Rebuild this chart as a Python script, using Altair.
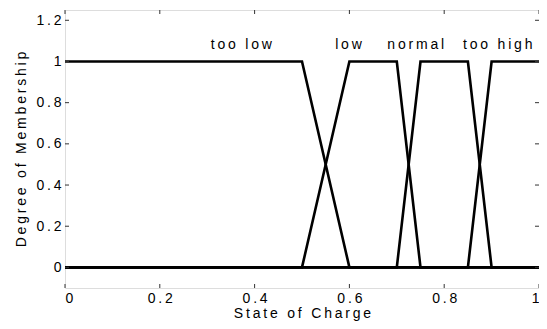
import altair as alt
import pandas as pd

# membership functions (x breakpoints, y values)
too_low_x = [0.0, 0.5, 0.6, 1.0]
too_low_y = [1, 1, 0, 0]
low_x = [0.0, 0.5, 0.6, 0.7, 0.75, 1.0]
low_y = [0, 0, 1, 1, 0, 0]
normal_x = [0.0, 0.7, 0.75, 0.85, 0.9, 1.0]
normal_y = [0, 0, 1, 1, 0, 0]
too_high_x = [0.0, 0.85, 0.9, 1.0]
too_high_y = [0, 0, 1, 1]

label_text = ["too low", "low", "normal", "too high"]
label_x = [0.372, 0.598, 0.74, 0.913]
label_y = [1.08, 1.08, 1.08, 1.08]

x_ticks = [0, 0.2, 0.4, 0.6, 0.8, 1.0]
y_ticks = [0, 0.2, 0.4, 0.6, 0.8, 1.0, 1.2]

THIN = "\u2009"


def spaced(s):
    return THIN.join(list(s))


rows = []
for name, xs, ys in [("too low", too_low_x, too_low_y), ("low", low_x, low_y),
                     ("normal", normal_x, normal_y), ("too high", too_high_x, too_high_y)]:
    for i, (xv, yv) in enumerate(zip(xs, ys)):
        rows.append({"series": name, "i": i, "x": xv, "y": yv})
df = pd.DataFrame(rows)

labels = pd.DataFrame({"t": [spaced(t) for t in label_text], "x": label_x, "y": label_y})
xt = pd.DataFrame({"v": x_ticks})
yt = pd.DataFrame({"v": y_ticks})

W, H = 474, 278
FONT = "Liberation Sans"

xscale = alt.Scale(domain=[0, 1], nice=False, zero=False)
yscale = alt.Scale(domain=[-0.1, 1.25], nice=False, zero=False)

lab_expr = "replace(datum.label, '.', '" + THIN + "." + THIN + "')"

xaxis = alt.Axis(values=x_ticks, format="~g", ticks=False, domain=False, grid=False,
                 labelPadding=3, labelFontSize=14, labelFont=FONT, labelColor="black",
                 labelExpr=lab_expr,
                 title=spaced("State of Charge"), titleFont=FONT, titleFontSize=14,
                 titleFontWeight="normal", titleColor="black", titlePadding=1)
yaxis = alt.Axis(values=y_ticks, format="~g", ticks=False, domain=False, grid=False,
                 labelPadding=4, labelFontSize=14, labelFont=FONT, labelColor="black",
                 labelExpr=lab_expr,
                 title=spaced("Degree of Membership"), titleFont=FONT, titleFontSize=14,
                 titleFontWeight="normal", titleColor="black", titlePadding=7)

lines = alt.Chart(df).mark_line(color="black", strokeWidth=2.6).encode(
    x=alt.X("x:Q", scale=xscale, axis=xaxis),
    y=alt.Y("y:Q", scale=yscale, axis=yaxis),
    detail="series:N",
    order="i:Q",
)

text = alt.Chart(labels).mark_text(font=FONT, fontSize=14, color="black", baseline="middle").encode(
    x=alt.X("x:Q", scale=xscale),
    y=alt.Y("y:Q", scale=yscale),
    text="t:N",
)

tick_color = "#333"
left_t = alt.Chart(yt).mark_rule(color=tick_color, strokeWidth=1).encode(
    y=alt.Y("v:Q", scale=yscale), x=alt.value(0), x2=alt.value(4))
right_t = alt.Chart(yt).mark_rule(color=tick_color, strokeWidth=1).encode(
    y=alt.Y("v:Q", scale=yscale), x=alt.value(W - 4), x2=alt.value(W))
top_t = alt.Chart(xt).mark_rule(color=tick_color, strokeWidth=1).encode(
    x=alt.X("v:Q", scale=xscale), y=alt.value(0), y2=alt.value(4))
bot_t = alt.Chart(xt).mark_rule(color=tick_color, strokeWidth=1).encode(
    x=alt.X("v:Q", scale=xscale), y=alt.value(H - 4), y2=alt.value(H))

chart = alt.layer(lines, text, left_t, right_t, top_t, bot_t).properties(
    width=W, height=H,
    autosize=alt.AutoSizeParams(type="none"),
    padding={"left": 57, "top": 2, "right": 0, "bottom": 33},
).configure_view(stroke="#333", strokeWidth=1).configure(background="white")

chart.save("out.html", embed_options={"renderer": "svg", "actions": False})
